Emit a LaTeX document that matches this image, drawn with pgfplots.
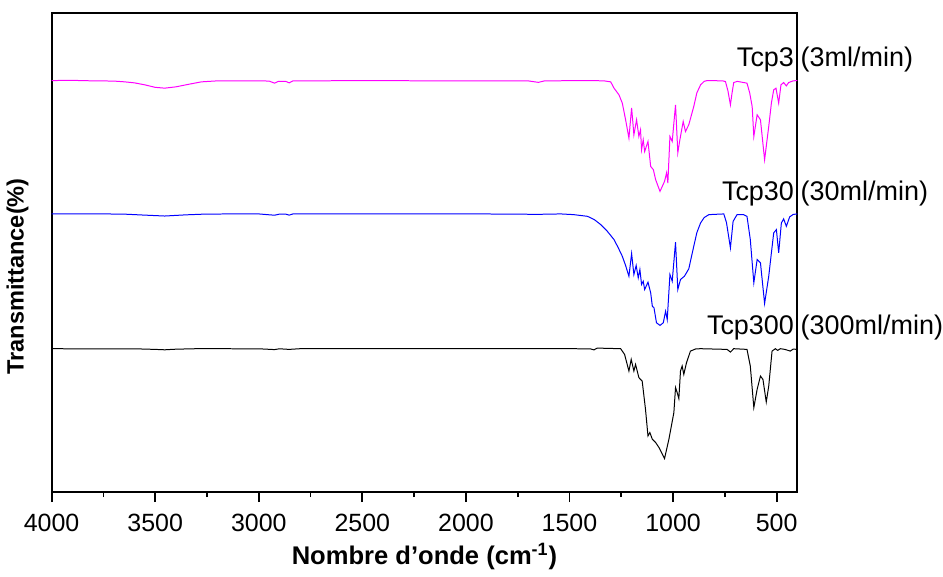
\documentclass[border=0pt]{standalone}
\usepackage{fontspec}
\setmainfont{Liberation Sans}
\usepackage{pgfplots}
\pgfplotsset{compat=1.18}
\definecolor{pk}{RGB}{255,0,255}
\definecolor{bl}{RGB}{0,0,255}

\begin{document}
\begin{tikzpicture}
\begin{axis}[
  scale only axis,
  width=373.5pt, height=240pt,
  x dir=reverse,
  xmin=400, xmax=4000,
  ymin=0, ymax=480,
  xtick={500,1000,...,4000},
  minor x tick num=1,
  ytick=\empty,
  xtick pos=lower,
  tick align=outside,
  major tick length=5pt,
  minor tick length=2.5pt,
  axis line style={line width=1pt},
  every tick/.style={black, line width=0.9pt},
  /pgf/number format/1000 sep={},
  /pgf/number format/assume math mode=true,
  tick label style={font=\fontsize{12.5}{14}\selectfont},
  xticklabel style={yshift=-2.5pt},
  xlabel={\textbf{Nombre d'onde (cm\textsuperscript{-1})}},
  ylabel={\textbf{Transmittance(\%)}},
  xlabel style={font=\fontsize{12.8}{14}\selectfont, yshift=1pt},
  ylabel style={font=\fontsize{11.8}{14}\selectfont, yshift=3pt, xshift=-12pt},
  clip=false,
]
% Tcp3
\addplot[color=pk, line width=0.5pt] coordinates {
(4000,412.3) (3900,412.5) (3800,412) (3700,411.8) (3647,411) (3600,410) (3550,408) (3500,405.5) (3454,404.7)
(3400,406) (3340,408.5) (3277,411) (3200,412) (3000,412) (2950,411.8) (2924,409.7) (2905,411.5) (2870,411.5) (2853,410) (2835,412)
(2500,412.2) (2000,412) (1700,412) (1650,410.5) (1620,412) (1400,412.3) (1333,412) (1301,411)
(1285,404.7) (1261,398) (1245,389.7) (1229,373) (1213,354.7) (1200,385) (1189,358) (1176,373) (1165,356.3)
(1157,363) (1152,343) (1144,353) (1137,341.3) (1121,351.3) (1108,326.3) (1095,323) (1084,313) (1063,301.3)
(1052,306.3) (1041,311.3) (1031,320) (1025,309.7) (1015,356.3) (1004,351.3) (988,388) (977,340) (967,353)
(951,371.3) (940,361.3) (924,368) (900,386.3) (885,400) (867,408) (850,411.5) (835,412.3) (760,412) (747,411.3) (735,402)
(723,388) (715,400) (707,410.3) (690,411.5) (643,409.7) (630,400) (618,386.3) (610,356.3) (594,378) (578,373)
(558,333) (538,366.3) (525,390) (514,403) (503,404.7) (490,389.7) (479,408) (466,410.3) (453,407) (442,410.3) (420,412) (400,412.3)
};
% Tcp30
\addplot[color=bl, line width=0.5pt] coordinates {
(4000,278.7) (3800,278.8) (3650,278.5) (3550,277.5) (3454,276.6) (3350,277.8) (3250,278.6) (3000,278.7) (2924,277.4) (2900,278.5)
(2870,278.5) (2853,277.5) (2835,278.7) (2500,278.7) (2000,278.8) (1650,278.3) (1542,278.7) (1480,278) (1413,276.3)
(1380,273) (1349,268) (1320,262) (1285,253) (1265,245) (1245,236.3) (1229,227) (1213,216.3) (1200,239) (1189,218)
(1178,227) (1168,214.7) (1160,223) (1152,208) (1144,211.3) (1137,203) (1121,210.3) (1108,199.7) (1100,186.3)
(1092,184.7) (1080,169.7) (1063,167) (1047,169.7) (1036,181.3) (1028,173) (1015,218) (1004,211.3) (988,250.3)
(977,203) (964,213) (945,216.3) (924,223.7) (900,246.3) (885,260) (867,269.7) (850,275) (827,278) (755,278.7) (742,270)
(723,244.7) (710,271.3) (691,278) (660,278) (643,276.3) (627,253) (610,209.7) (594,233) (578,229.7) (558,189)
(538,216.3) (525,240) (514,259.7) (501,263) (490,239.7) (477,269.7) (466,273.7) (453,266.3) (437,275.7) (420,278.2) (400,278.7)
};
% Tcp300
\addplot[color=black, line width=0.5pt] coordinates {
(4000,143.7) (3800,143.5) (3600,143.6) (3500,143) (3454,142.6) (3400,143.2) (3300,143.7) (3000,143.6) (2924,142.8) (2900,143.6)
(2853,143) (2800,143.7) (2000,143.7) (1600,143.7) (1542,143.7) (1400,143.6) (1382,142.5) (1366,144.3) (1253,143.7) (1234,138)
(1213,121.3) (1202,133) (1189,121.3) (1181,128) (1165,114.7) (1149,111.3) (1133,83) (1121,56.3) (1112,59.7)
(1100,53) (1084,49.7) (1068,44.7) (1041,33.7) (1020,53) (996,79.7) (988,104.7) (980,99.7) (972,93.7) (964,121.3)
(956,126.3) (948,118) (935,129.7) (916,141.3) (890,143.5) (867,143.7) (739,143) (723,140.3) (707,143.7) (643,143)
(627,126.3) (610,84.7) (594,103) (578,116.3) (566,113) (550,90.3) (538,106.3) (522,141.3) (506,143.7) (495,142)
(482,143.7) (460,143) (434,141.3) (420,143.3) (400,143)
};
\node[anchor=east, inner sep=0pt, xshift=-1.5pt, font=\fontsize{13.5}{15}\selectfont] at (axis cs:400,433) {Tcp3};
\node[anchor=west, inner sep=0pt, xshift=1.5pt, font=\fontsize{13.5}{15}\selectfont] at (axis cs:400,433) {(3ml/min)};
\node[anchor=east, inner sep=0pt, xshift=-1.5pt, font=\fontsize{13.5}{15}\selectfont] at (axis cs:400,299) {Tcp30};
\node[anchor=west, inner sep=0pt, xshift=1.5pt, font=\fontsize{13.5}{15}\selectfont] at (axis cs:400,299) {(30ml/min)};
\node[anchor=east, inner sep=0pt, xshift=-1.5pt, font=\fontsize{13.5}{15}\selectfont] at (axis cs:400,165) {Tcp300};
\node[anchor=west, inner sep=0pt, xshift=1.5pt, font=\fontsize{13.5}{15}\selectfont] at (axis cs:400,165) {(300ml/min)};
\path (rel axis cs:0,1) ++(0,6.5pt);
\end{axis}
\end{tikzpicture}
\end{document}
